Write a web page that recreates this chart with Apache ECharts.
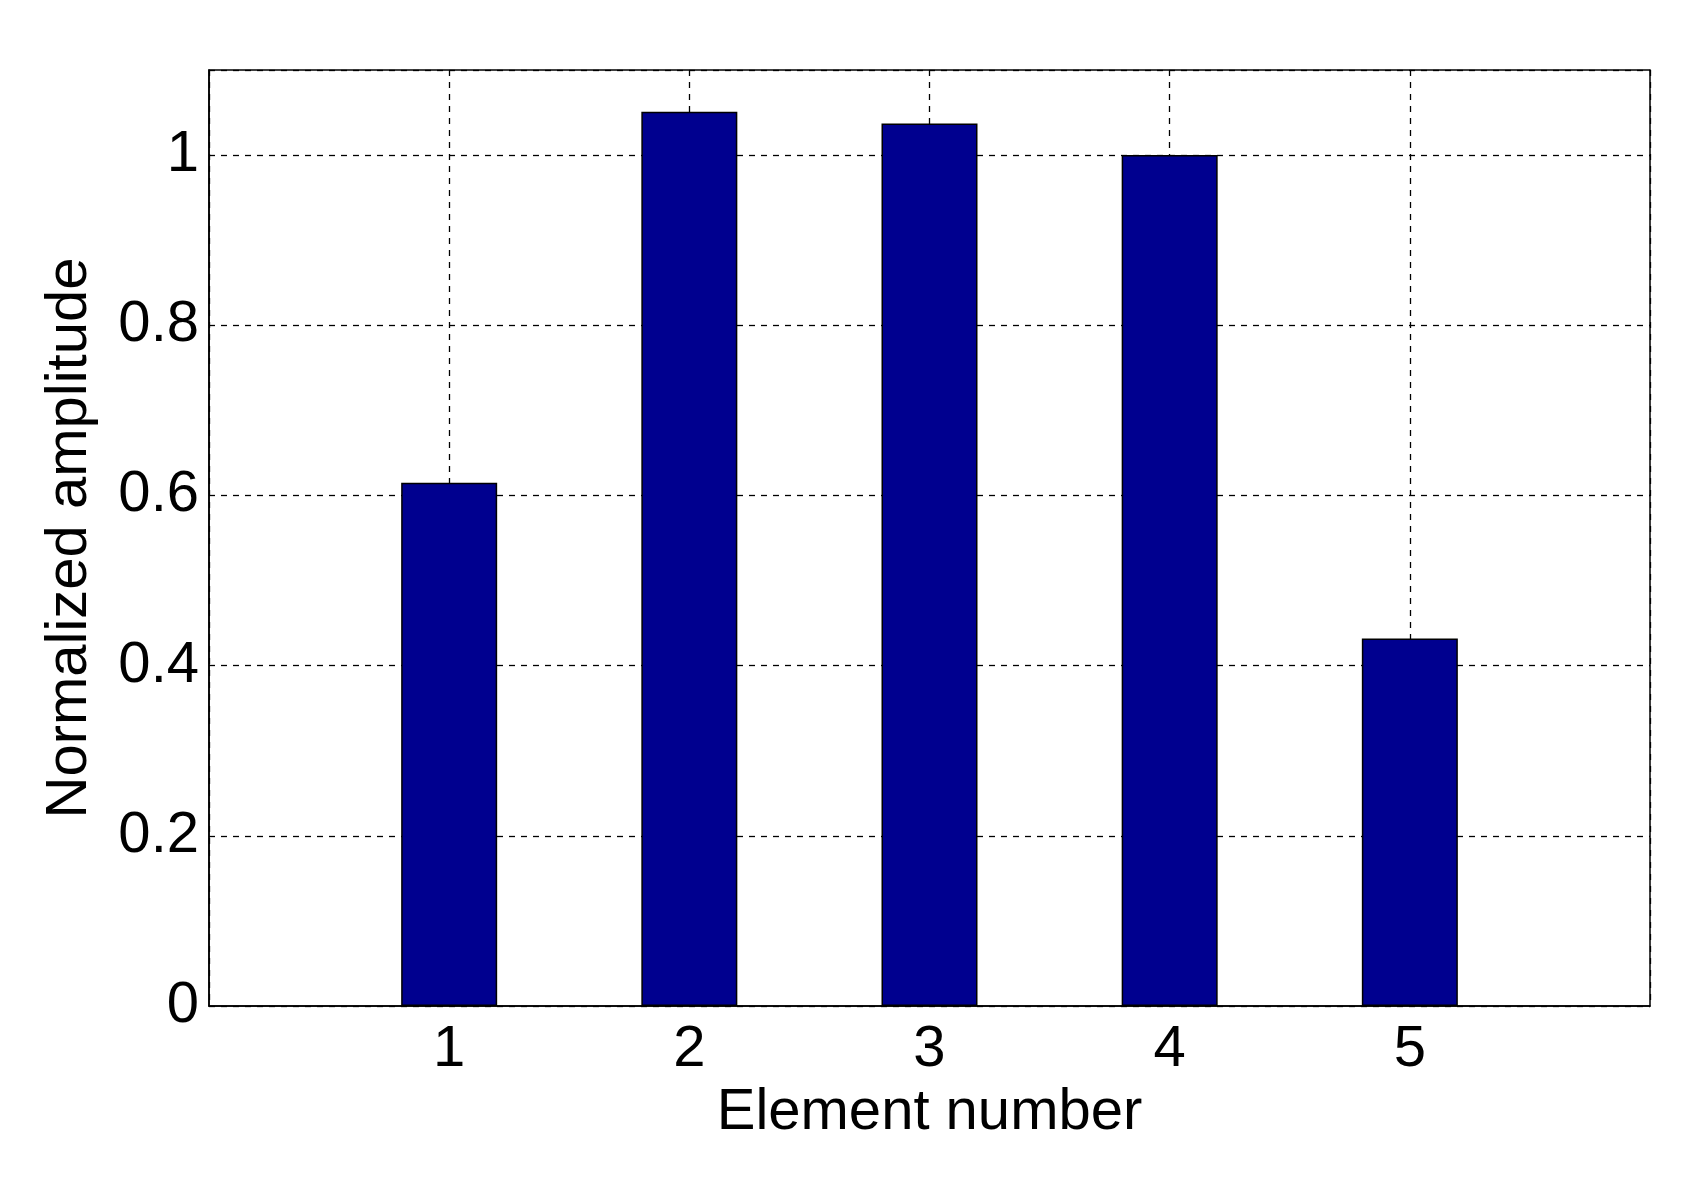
<!DOCTYPE html>
<html>
<head>
<meta charset="utf-8">
<script src="https://cdn.jsdelivr.net/npm/echarts@6/dist/echarts.min.js"></script>
<style>
  html, body { margin: 0; padding: 0; background: #fff; }
  #chart { width: 1704px; height: 1194px; }
</style>
</head>
<body>
<div id="chart"></div>
<script>
// element numbers and normalized amplitudes
const elements = [1, 2, 3, 4, 5]
const amplitudes = [0.615, 1.051, 1.037, 1.0, 0.432]
const yTicks = [0, 0.2, 0.4, 0.6, 0.8, 1]

const font = 'Liberation Sans, Arial, sans-serif'
const gridLine = { show: true, lineStyle: { color: '#000', type: [6, 6], width: 1.3 } }

const chart = echarts.init(document.getElementById('chart'))
const option = {
  backgroundColor: '#fff',
  animation: false,
  grid: {
    left: 209,
    right: 54,
    top: 70,
    bottom: 188,
    show: true,
    borderColor: '#000',
    borderWidth: 1.5
  },
  xAxis: {
    type: 'value',
    min: 0,
    max: 6,
    interval: 1,
    name: 'Element number',
    nameLocation: 'middle',
    nameGap: 74,
    nameTextStyle: { fontFamily: font, fontSize: 58, color: '#000' },
    axisLine: { show: true, lineStyle: { color: '#000', width: 1.5 } },
    axisTick: { show: false },
    axisLabel: {
      fontFamily: font,
      fontSize: 58,
      color: '#000',
      margin: 15,
      // only the element numbers get a label
      formatter: v => (elements.indexOf(v) >= 0 ? String(v) : '')
    },
    splitLine: gridLine
  },
  yAxis: {
    type: 'value',
    min: 0,
    max: 1.1,
    interval: 0.2,
    name: 'Normalized amplitude',
    nameLocation: 'middle',
    nameGap: 110,
    nameTextStyle: { fontFamily: font, fontSize: 58, color: '#000' },
    axisLine: { show: true, lineStyle: { color: '#000', width: 1.5 } },
    axisTick: { show: false },
    axisLabel: {
      fontFamily: font,
      fontSize: 58,
      color: '#000',
      margin: 10,
      formatter: v => {
        const t = yTicks.find(k => Math.abs(k - v) < 1e-6)
        return t === undefined ? '' : String(t)
      }
    },
    splitLine: gridLine
  },
  series: [
    {
      type: 'bar',
      barWidth: 96,
      itemStyle: { color: '#00008f', borderColor: '#000', borderWidth: 1.5 },
      data: elements.map((e, i) => [e, amplitudes[i]])
    }
  ]
}
chart.setOption(option)
</script>
</body>
</html>
